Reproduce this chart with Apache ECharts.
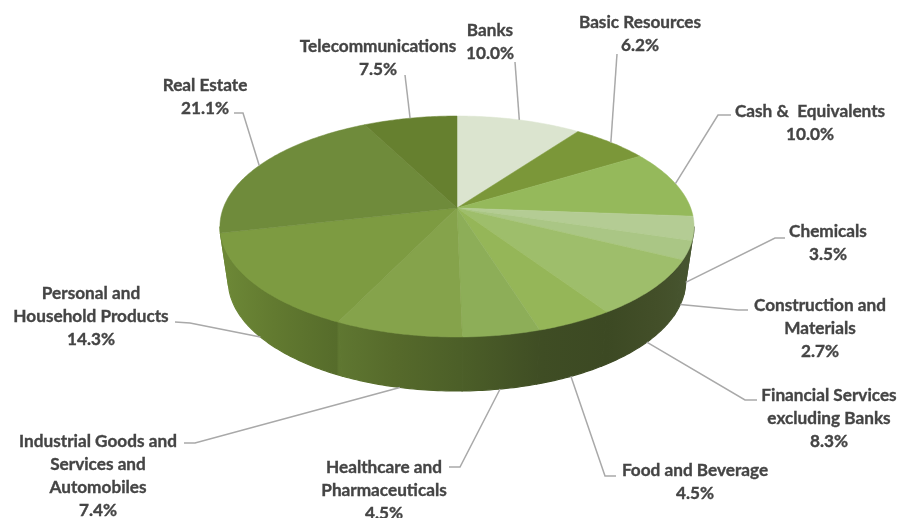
<!DOCTYPE html>
<html>
<head>
<meta charset="utf-8">
<style>html,body{margin:0;padding:0;background:#fff}#c{width:899px;height:518px}</style>
<script src="https://cdn.jsdelivr.net/npm/echarts@6/dist/echarts.min.js"></script>
</head>
<body>
<div id="c"></div>
<script>
// ---- data ----
const categories = ['Banks','Basic Resources','Cash &  Equivalents','Chemicals','Construction and Materials','Financial Services excluding Banks','Food and Beverage','Healthcare and Pharmaceuticals','Industrial Goods and Services and Automobiles','Personal and Household Products','Real Estate','Telecommunications'];
const shares = [10.0,6.2,10.0,3.5,2.7,8.3,4.5,4.5,7.4,14.3,21.1,7.5];
const labelLines = [['Banks'],['Basic Resources'],['Cash &  Equivalents'],['Chemicals'],['Construction and','Materials'],['Financial Services','excluding Banks'],['Food and Beverage'],['Healthcare and','Pharmaceuticals'],['Industrial Goods and','Services and','Automobiles'],['Personal and','Household Products'],['Real Estate'],['Telecommunications']];
const sliceColors = ['#dbe4cf','#7b9739','#95b95b','#b4cc94','#aac685','#9ebe6b','#95b658','#8dae58','#85a34b','#7d9b41','#6f8b3b','#66802f'];

// ---- layout of the projected disc and of the labels ----
const disc = {cx:457, cy:208, a:233.7, b:107.4, k:0.1674, depth:54, shrink:0.965};
const labelLayout = [
  {x:490,y:30, path:[[515,62]]},
  {x:640,y:22, path:[[617,54]]},
  {x:810,y:111,path:[[718,115],[731,115]]},
  {x:828,y:231,path:[[775,238],[785,238]]},
  {x:820,y:305,path:[[738,310],[748,310]]},
  {x:829,y:395,path:[[745,400],[757,400]]},
  {x:695,y:470,path:[[605,476],[616,476]]},
  {x:384,y:467,path:[[460,467],[449,467]]},
  {x:98, y:441,path:[[195,443],[184,443]]},
  {x:91, y:293,path:[[190,323],[175,322]]},
  {x:205,y:85, path:[[243,113],[234,113]]},
  {x:378,y:46, path:[[405,75]]}
];
const lineHeight = 23.2;
const total = shares.reduce((s,v)=>s+v,0);
const cumulative = shares.reduce((acc,v)=>{acc.push(acc[acc.length-1]+v);return acc;},[0]);
const angleOf = c => c/total*Math.PI*2;

function topRim(t){
  const u=Math.sin(t), v=-Math.cos(t), d=1-disc.k*v;
  return [disc.cx+disc.a*u/d, disc.cy+disc.b*v/d];
}
function bottomRim(t){
  const p=topRim(t);
  return [disc.cx+(p[0]-disc.cx)*disc.shrink, p[1]+disc.depth];
}
function arc(f,t0,t1){
  const n=Math.max(2,Math.ceil((t1-t0)/0.015)), pts=[];
  for(let i=0;i<=n;i++) pts.push(f(t0+(t1-t0)*i/n));
  return pts;
}
const wallFill = new echarts.graphic.LinearGradient(228,0,690,0,[
  {offset:0,color:'#6c8736'},{offset:0.1,color:'#627a30'},{offset:0.235,color:'#566c2b'},
  {offset:0.24,color:'#5f7731'},{offset:0.36,color:'#566a2b'},{offset:0.5,color:'#4c5f28'},
  {offset:0.68,color:'#3f4d24'},{offset:0.82,color:'#3c4923'},{offset:0.93,color:'#434f29'},{offset:1,color:'#475530'}
],true);

const chartData = categories.map((n,i)=>({name:n,value:[i,shares[i]]}));
const wallStart = Math.PI/2 + Math.asin(disc.k), wallEnd = Math.PI*2 - wallStart;

const option = {
  backgroundColor:'#ffffff',
  animation:false,
  series:[
    { type:'custom', coordinateSystem:'none', silent:true, z:1, data:chartData,
      renderItem(p,api){
        const i=api.value(0);
        const t0=Math.max(angleOf(cumulative[i]),wallStart), t1=Math.min(angleOf(cumulative[i+1]),wallEnd);
        if(t1<=t0) return {type:'group',children:[]};
        const pts=arc(topRim,t0,t1).concat(arc(bottomRim,t0,t1).reverse());
        return {type:'polygon',shape:{points:pts},style:{fill:wallFill,stroke:wallFill,lineWidth:1.2}};
      }},
    { type:'custom', coordinateSystem:'none', silent:true, z:2, data:chartData,
      renderItem(p,api){
        const i=api.value(0);
        const pts=[[disc.cx,disc.cy]].concat(arc(topRim,angleOf(cumulative[i]),angleOf(cumulative[i+1])));
        return {type:'polygon',shape:{points:pts},style:{fill:sliceColors[i],stroke:sliceColors[i],lineWidth:0.5}};
      }},
    { type:'custom', coordinateSystem:'none', silent:true, z:3, data:chartData,
      renderItem(p,api){
        const i=api.value(0), L=labelLayout[i];
        const mid=angleOf((cumulative[i]+cumulative[i+1])/2);
        const anchor=(mid>wallStart-0.1 && mid<wallEnd+0.1)?bottomRim(mid):topRim(mid);
        const children=[{type:'polyline',shape:{points:[anchor].concat(L.path)},style:{fill:null,stroke:'#a9a9a9',lineWidth:1.5}}];
        const lines=labelLines[i].concat([shares[i].toFixed(1)+'%']);
        lines.forEach((t,j)=>children.push({type:'text',style:{
          text:t,x:L.x,y:L.y+j*lineHeight,align:'center',verticalAlign:'middle',
          fill:'#444444',stroke:'#444444',lineWidth:0.35,font:'700 17.2px Lato, "Open Sans", sans-serif'}}));
        return {type:'group',children};
      }}
  ]
};
echarts.init(document.getElementById('c'),null,{renderer:'canvas'}).setOption(option);
</script>
</body>
</html>
